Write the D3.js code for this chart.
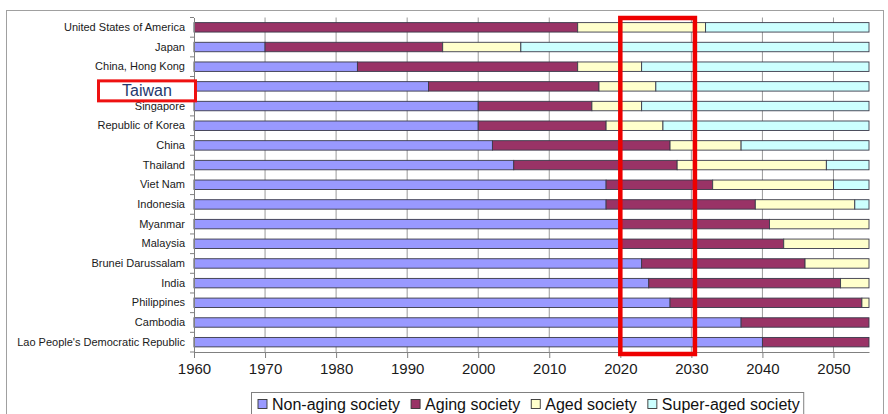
<!DOCTYPE html>
<html>
<head>
<meta charset="utf-8">
<script src="https://cdn.jsdelivr.net/npm/d3@7"></script>
<style>
  body { margin: 0; background: #fff; }
  text { font-family: "Liberation Sans", Arial, sans-serif; }
</style>
</head>
<body>
<svg id="chart" width="888" height="414"></svg>
<script>
// countries top to bottom
var countries = ["United States of America", "Japan", "China, Hong Kong", "Taiwan", "Singapore",
  "Republic of Korea", "China", "Thailand", "Viet Nam", "Indonesia", "Myanmar", "Malaysia",
  "Brunei Darussalam", "India", "Philippines", "Cambodia", "Lao People's Democratic Republic"];

// years spent in each stage, stacked from 1960
var nonAging  = [0, 10, 23, 33, 40, 40, 42, 45, 58, 58, 60, 60, 63, 64, 67, 77, 80];
var aging     = [54, 25, 31, 24, 16, 18, 25, 23, 15, 21, 21, 23, 23, 27, 27, 18, 15];
var aged      = [18, 11, 9, 8, 7, 8, 10, 21, 17, 14, 14, 12, 9, 4, 1, 0, 0];
var superAged = [23, 49, 32, 30, 32, 29, 18, 6, 5, 2, 0, 0, 0, 0, 0, 0, 0];

var seriesNames = ["Non-aging society", "Aging society", "Aged society", "Super-aged society"];
var seriesKeys = ["nonAging", "aging", "aged", "superAged"];
var colors = ["#9999ff", "#993366", "#ffffcc", "#ccffff"];
var xTicks = [1960, 1970, 1980, 1990, 2000, 2010, 2020, 2030, 2040, 2050];
var startYear = 1960, endYear = 2055;

var svg = d3.select("#chart");

var left = 194, right = 869, top_ = 17.5, bottom = 352;

var x = d3.scaleLinear().domain([startYear, endYear]).range([left, right]);
var y = d3.scaleBand().domain(countries).range([top_, bottom]).paddingInner(0.52).paddingOuter(0.26);
var yb = d3.scaleBand().domain(countries).range([top_, bottom]);

// outer frame
svg.append("rect")
  .attr("x", 6.5).attr("y", 10.5).attr("width", 877).attr("height", 420)
  .attr("fill", "none").attr("stroke", "#a0a0a0").attr("stroke-width", 1);

// gridlines
svg.append("g").selectAll("line")
  .data(xTicks.slice(1))
  .enter().append("line")
    .attr("x1", function(d){ return x(d) }).attr("x2", function(d){ return x(d) })
    .attr("y1", top_).attr("y2", bottom)
    .attr("stroke", "#9a9a9a").attr("stroke-width", 1);

// stacked bars
var rows = countries.map(function(c, i){
  return {country: c, nonAging: nonAging[i], aging: aging[i], aged: aged[i], superAged: superAged[i]};
});
var stacked = d3.stack().keys(seriesKeys)(rows);

svg.append("g").selectAll("g")
  .data(stacked)
  .enter().append("g")
    .attr("fill", function(d, i){ return colors[i] })
  .selectAll("rect")
  .data(function(d){ return d.filter(function(p){ return p[1] > p[0] }) })
  .enter().append("rect")
    .attr("x", function(d){ return x(startYear + d[0]) })
    .attr("width", function(d){ return x(startYear + d[1]) - x(startYear + d[0]) })
    .attr("y", function(d){ return y(d.data.country) })
    .attr("height", y.bandwidth())
    .attr("stroke", "#3a3a4a").attr("stroke-width", 0.9);

// x axis
var xAxis = svg.append("g")
  .attr("transform", "translate(0," + bottom + ")")
  .call(d3.axisBottom(x).tickValues(xTicks).tickFormat(d3.format("d")).tickSize(6).tickSizeOuter(0));
xAxis.select(".domain").attr("stroke", "#808080");
xAxis.selectAll(".tick line").attr("stroke", "#808080");
xAxis.selectAll("text")
  .attr("dy", "0.95em").attr("y", 8)
  .style("font-size", "15px").attr("fill", "#1a1a1a");

// y axis
var yAxis = svg.append("g")
  .attr("transform", "translate(" + left + ",0)")
  .call(d3.axisLeft(yb).tickSize(0).tickPadding(9));
yAxis.select(".domain").attr("stroke", "#808080");
yAxis.selectAll("text")
  .style("font-size", "11px").attr("fill", "#1a1a1a")
  .text(function(d){ return d === "Taiwan" ? "" : d });

// boundary ticks on y axis
svg.append("g").selectAll("line")
  .data(countries.concat(["_end"]))
  .enter().append("line")
    .attr("x1", left - 4).attr("x2", left)
    .attr("y1", function(d, i){ return top_ + i * yb.step() })
    .attr("y2", function(d, i){ return top_ + i * yb.step() })
    .attr("stroke", "#808080");

// highlight: Taiwan label box
var ty = yb("Taiwan") + yb.bandwidth() / 2;
svg.append("rect")
  .attr("x", 98.5).attr("y", ty - 5.5).attr("width", 97).attr("height", 20)
  .attr("fill", "#fff").attr("stroke", "#ee1111").attr("stroke-width", 3);
svg.append("text")
  .attr("x", 147).attr("y", ty + 4.5).attr("dy", "0.35em")
  .attr("text-anchor", "middle")
  .style("font-size", "16px").attr("fill", "#24386e")
  .text("Taiwan");

// highlight: 2020-2030 window
svg.append("rect")
  .attr("x", x(2020)).attr("y", 18)
  .attr("width", x(2030.5) - x(2020)).attr("height", 336)
  .attr("fill", "none").attr("stroke", "#ee0000").attr("stroke-width", 4.5);

// legend
var legend = svg.append("g");
var legBox = legend.append("rect")
  .attr("x", 251.5).attr("y", 392.5).attr("height", 30)
  .attr("fill", "#fff").attr("stroke", "#808080");
var lx = 258;
seriesNames.forEach(function(name, i){
  legend.append("rect")
    .attr("x", lx).attr("y", 399.5).attr("width", 9).attr("height", 9)
    .attr("fill", colors[i]).attr("stroke", "#333").attr("stroke-width", 0.9);
  var t = legend.append("text")
    .attr("x", lx + 14).attr("y", 404).attr("dy", "0.36em")
    .style("font-size", "16px").attr("fill", "#111")
    .text(name);
  lx += 14 + t.node().getComputedTextLength() + 11;
});
legBox.attr("width", lx - 11 + 4 - 251.5);
</script>
</body>
</html>
